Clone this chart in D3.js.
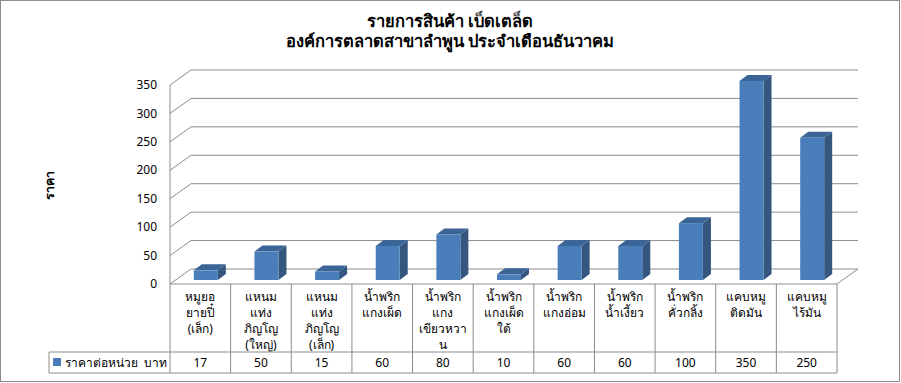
<!DOCTYPE html>
<html><head><meta charset="utf-8">
<script src="https://cdn.jsdelivr.net/npm/d3@7/dist/d3.min.js"></script>
<style>
html,body{margin:0;padding:0;background:#fff;}
text{font-family:Tahoma,"Noto Sans","DejaVu Sans",sans-serif;}
</style></head>
<body><svg id="c" width="901" height="383"></svg>
<script>
const categories = [
  "หมูยอ\nยายปี๋\n(เล็ก)",
  "แหนม\nแท่ง\nภิญโญ\n(ใหญ่)",
  "แหนม\nแท่ง\nภิญโญ\n(เล็ก)",
  "น้ำพริก\nแกงเผ็ด",
  "น้ำพริก\nแกง\nเขียวหวา\nน",
  "น้ำพริก\nแกงเผ็ด\nใต้",
  "น้ำพริก\nแกงอ่อม",
  "น้ำพริก\nน้ำเงี้ยว",
  "น้ำพริก\nคั่วกลิ้ง",
  "แคบหมู\nติดมัน",
  "แคบหมู\nไร้มัน"
];
const values = [17, 50, 15, 60, 80, 10, 60, 60, 100, 350, 250];
const seriesName = "ราคาต่อหน่วย  บาท";
const yTicks = [0, 50, 100, 150, 200, 250, 300, 350];
const titleLines = ["รายการสินค้า เบ็ดเตล็ด", "องค์การตลาดสาขาลำพูน ประจำเดือนธันวาคม"];
const yTitle = "ราคา";

const svg = d3.select("#c");
const W = 901, H = 383;
const left = 170, right = 837, floorY = 284, topY = 85;
const depthX = 21, depthY = -15;
const y = d3.scaleLinear().domain([0, 350]).range([floorY, topY]);
const x = d3.scaleBand().domain(categories).range([left, right]);
const grid = "#8c8c8c";

svg.append("rect").attr("x", 0.5).attr("y", 0.5).attr("width", W - 2).attr("height", H - 2)
  .attr("fill", "#fff").attr("stroke", "#8c8c8c");

// Title
svg.append("g").selectAll("text").data(titleLines).join("text")
  .attr("x", 450).attr("y", (d, i) => 27 + i * 20)
  .attr("text-anchor", "middle").attr("font-size", 16.5).attr("font-weight", "bold")
  .attr("fill", "#000").text(d => d);

// Y title
svg.append("text").attr("transform", "translate(54,185) rotate(-90)")
  .attr("text-anchor", "middle").attr("font-size", 12.5).attr("font-weight", "bold")
  .text(yTitle);

// walls / gridlines
const g = svg.append("g");
yTicks.forEach(t => {
  const yf = y(t);
  g.append("line").attr("x1", left).attr("y1", yf).attr("x2", left + depthX).attr("y2", yf + depthY)
    .attr("stroke", grid);
  g.append("line").attr("x1", left + depthX).attr("y1", yf + depthY).attr("x2", right + depthX).attr("y2", yf + depthY)
    .attr("stroke", grid);
});
g.append("line").attr("x1", left).attr("y1", y(350)).attr("x2", left).attr("y2", floorY).attr("stroke", grid);
// floor
g.append("line").attr("x1", left).attr("y1", floorY).attr("x2", right).attr("y2", floorY).attr("stroke", grid);
g.append("line").attr("x1", right).attr("y1", floorY).attr("x2", right + depthX).attr("y2", floorY + depthY).attr("stroke", grid);

// Y tick labels
svg.append("g").selectAll("text").data(yTicks).join("text")
  .attr("x", 157).attr("y", d => y(d)).attr("dy", "0.35em")
  .attr("text-anchor", "end").attr("font-size", 12).attr("fill", "#000").text(d => d);

// bars
const bw = 24, bdx = 8, bdy = -6, offX = 5.5, offY = -4;
const bars = svg.append("g").selectAll("g").data(values).join("g");
bars.each(function (v, i) {
  const sel = d3.select(this);
  const x0 = x(categories[i]) + (x.bandwidth() - bw) / 2 + offX;
  const yt = y(v) + offY, yb = y(0) + offY;
  sel.append("polygon").attr("points", [[x0 + bw, yt], [x0 + bw + bdx, yt + bdy], [x0 + bw + bdx, yb + bdy], [x0 + bw, yb]].join(" "))
    .attr("fill", "#34567f");
  sel.append("polygon").attr("points", [[x0, yt], [x0 + bw, yt], [x0 + bw + bdx, yt + bdy], [x0 + bdx, yt + bdy]].join(" "))
    .attr("fill", "#3b6597");
  sel.append("rect").attr("x", x0).attr("y", yt).attr("width", bw).attr("height", yb - yt)
    .attr("fill", "#4a7ebb");
});

// data table
const tbl = svg.append("g");
const tc = "#8c8c8c";
const rowTop = 352, rowBot = 373, legLeft = 49;
categories.forEach((c, i) => {
  const x0 = x(c);
  tbl.append("line").attr("x1", x0).attr("y1", floorY).attr("x2", x0).attr("y2", rowBot).attr("stroke", tc);
  const lines = c.split("\n");
  tbl.append("text").attr("x", x0 + x.bandwidth() / 2).attr("y", 297).attr("font-size", 12)
    .attr("text-anchor", "middle").attr("fill", "#000")
    .selectAll("tspan").data(lines).join("tspan")
    .attr("x", x0 + x.bandwidth() / 2).attr("dy", (d, j) => j === 0 ? "0.35em" : 16).text(d => d);
  tbl.append("text").attr("x", x0 + x.bandwidth() / 2).attr("y", (rowTop + rowBot) / 2).attr("dy", "0.35em")
    .attr("text-anchor", "middle").attr("font-size", 12).attr("fill", "#000").text(values[i]);
});
tbl.append("line").attr("x1", right).attr("y1", floorY).attr("x2", right).attr("y2", rowBot).attr("stroke", tc);
tbl.append("line").attr("x1", legLeft).attr("y1", rowTop).attr("x2", right).attr("y2", rowTop).attr("stroke", tc);
tbl.append("line").attr("x1", legLeft).attr("y1", rowBot).attr("x2", right).attr("y2", rowBot).attr("stroke", tc);
tbl.append("line").attr("x1", legLeft).attr("y1", rowTop).attr("x2", legLeft).attr("y2", rowBot).attr("stroke", tc);
tbl.append("rect").attr("x", 53).attr("y", 358).attr("width", 8).attr("height", 8).attr("fill", "#4a7ebb");
tbl.append("text").attr("x", 65).attr("y", (rowTop + rowBot) / 2).attr("dy", "0.35em")
  .attr("font-size", 12).style("white-space", "pre").attr("fill", "#000").text(seriesName);
</script></body></html>
